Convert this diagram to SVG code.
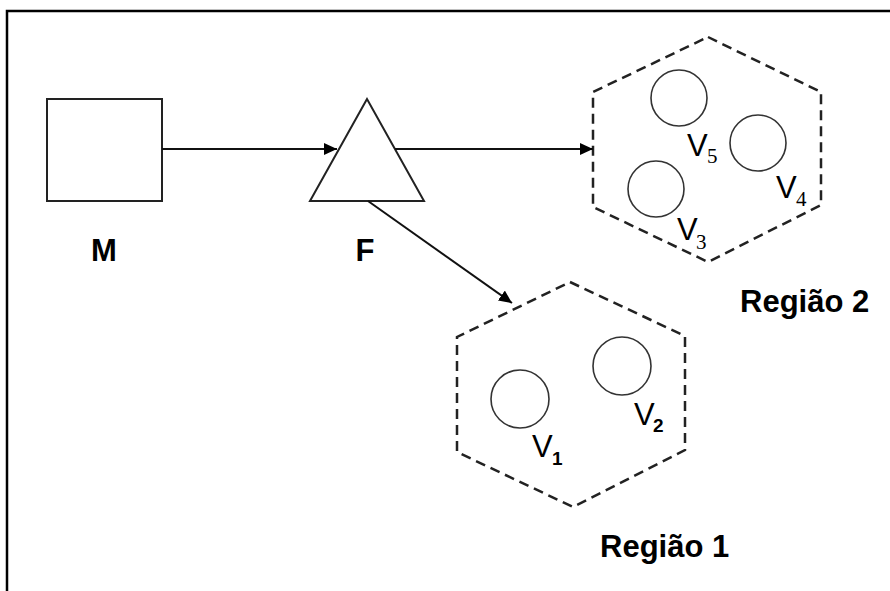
<svg xmlns="http://www.w3.org/2000/svg" width="890" height="591" viewBox="0 0 890 591">
<style>
.shape{fill:#fff;stroke:#222;stroke-width:2}
.hex{fill:none;stroke:#222;stroke-width:2.5;stroke-dasharray:10 6}
.circ{fill:none;stroke:#333;stroke-width:1.6}
.conn{stroke:#111;stroke-width:2;fill:none}
.lbl{font-family:"Liberation Sans",Arial,sans-serif;font-weight:bold;font-size:31px;fill:#000}
.v{font-family:"Liberation Sans",Arial,sans-serif;font-size:31px;fill:#000}
.sub{font-family:"Liberation Serif","Times New Roman",serif;font-size:21px;fill:#000}
.sub2{font-family:"Liberation Sans",Arial,sans-serif;font-weight:bold;font-size:19px;fill:#000}
</style>
<defs>
<marker id="arr" markerUnits="userSpaceOnUse" markerWidth="14" markerHeight="12" refX="13" refY="6" orient="auto">
<path d="M0,0 L13,6 L0,12 Z" fill="#000"/>
</marker>
</defs>
<rect width="890" height="591" fill="#fff"/>
<polyline points="7,591 7,11 890,11" fill="none" stroke="#000" stroke-width="2.5"/>

<g id="M">
<rect class="shape" x="47" y="99" width="115" height="102"/>
<text class="lbl" x="104" y="261" text-anchor="middle">M</text>
</g>

<g id="F">
<polygon class="shape" points="367,99 310,201 424,201"/>
<text class="lbl" x="365" y="261" text-anchor="middle">F</text>
</g>

<g id="regiao2">
<polygon class="hex" points="708,37 821,92 821,205 708,262 593,207 593,92"/>
<circle class="circ" cx="679" cy="98" r="28"/>
<circle class="circ" cx="758" cy="143" r="28"/>
<circle class="circ" cx="656" cy="189" r="28"/>
<text class="v" x="687" y="156">V</text>
<text class="sub" x="707" y="163">5</text>
<text class="v" x="776" y="198">V</text>
<text class="sub" x="796" y="206">4</text>
<text class="v" x="677" y="240">V</text>
<text class="sub" x="696" y="249">3</text>
<text class="lbl" x="740" y="312">Região 2</text>
</g>

<g id="regiao1">
<polygon class="hex" points="570,282 685,336 685,450 573,507 457,452 457,337"/>
<circle class="circ" cx="520" cy="399" r="29"/>
<circle class="circ" cx="622" cy="366" r="29"/>
<text class="v" x="532" y="457">V</text>
<text class="sub2" x="552" y="465">1</text>
<text class="v" x="634" y="425">V</text>
<text class="sub2" x="653" y="432">2</text>
<text class="lbl" x="600" y="557">Região 1</text>
</g>

<g id="connectors">
<line class="conn" x1="162" y1="149" x2="337" y2="149" marker-end="url(#arr)"/>
<line class="conn" x1="395" y1="149" x2="593" y2="149" marker-end="url(#arr)"/>
<line class="conn" x1="368" y1="201" x2="512" y2="303" marker-end="url(#arr)"/>
</g>
</svg>
